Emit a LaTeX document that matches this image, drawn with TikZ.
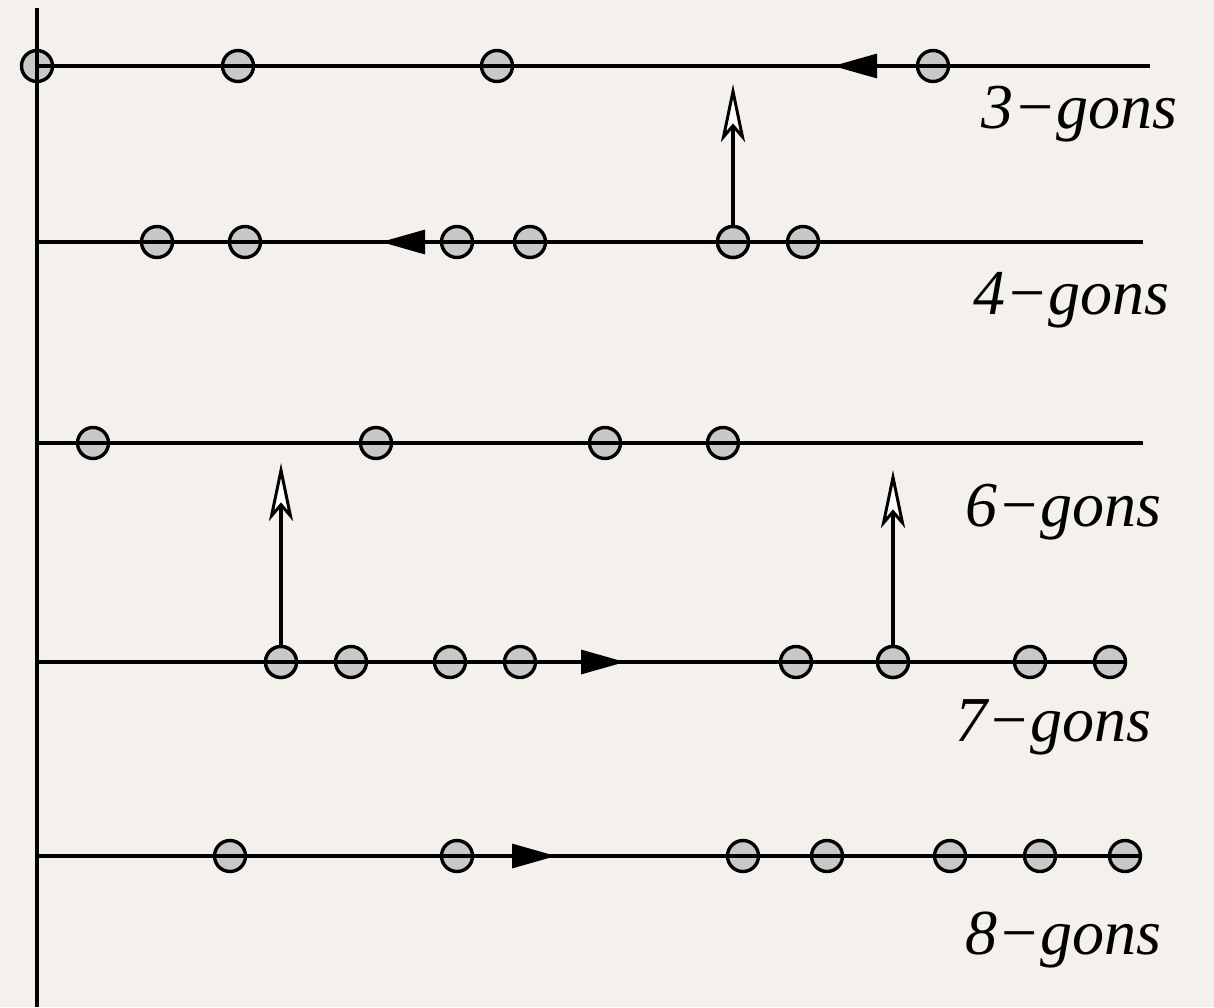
\documentclass[tikz,border=0pt]{standalone}
\usepackage{fontspec}
\newfontfamily\labfont{Liberation Serif}[UprightFont=* Italic]
\usetikzlibrary{arrows.meta}
\definecolor{bg}{HTML}{F4F1EC}
\definecolor{dotfill}{HTML}{C8C8C8}
\tikzset{
  dot/.style={circle,draw=black,fill=dotfill,line width=3.4pt,minimum size=31pt,inner sep=0pt},
  rowline/.style={line width=3.2pt},
  flowtip/.style={line width=3.2pt,-{Triangle[length=44pt,width=24pt]}},
  uparrow/.style={line width=3.2pt,-{Stealth[length=58pt,width=24pt,inset=14pt,fill=white,line width=3pt]}},
  lab/.style={anchor=base east,inner sep=0pt,font=\labfont\fontsize{64}{64}\selectfont}
}
\begin{document}
\begin{tikzpicture}[x=1pt,y=-1pt]
\fill[bg] (0,0) rectangle (1214,1007);
\useasboundingbox (0,0) rectangle (1214,1007);
% coordinates
\coordinate (axtop) at (37,8);
\coordinate (axbot) at (37,1007);
\coordinate (s1) at (37,66);  \coordinate (e1) at (1150,66);
\coordinate (s2) at (37,242); \coordinate (e2) at (1143,242);
\coordinate (s3) at (37,443); \coordinate (e3) at (1143,443);
\coordinate (s4) at (37,662); \coordinate (e4) at (1126,662);
\coordinate (s5) at (37,856); \coordinate (e5) at (1141,856);
% dots
\foreach \x [count=\i] in {37,238,497,933} \node[dot] (a\i) at (\x,66) {};
\foreach \x [count=\i] in {157,245,457,530,733,803} \node[dot] (b\i) at (\x,242) {};
\foreach \x [count=\i] in {93,376,605,723} \node[dot] (c\i) at (\x,443) {};
\foreach \x [count=\i] in {281,351,450,520,796,893,1030,1110} \node[dot] (d\i) at (\x,662) {};
\foreach \x [count=\i] in {230,457,743,827,950,1040,1125} \node[dot] (f\i) at (\x,856) {};
% lines
\draw[rowline] (axtop) -- (axbot);
\draw[rowline] (s1) -- (e1);
\draw[rowline] (s2) -- (e2);
\draw[rowline] (s3) -- (e3);
\draw[rowline] (s4) -- (e4);
\draw[rowline] (s5) -- (e5);
% flow arrows
\coordinate (t1a) at (876,66); \coordinate (t1b) at (833,66);
\coordinate (t2a) at (424,242); \coordinate (t2b) at (381,242);
\coordinate (t4a) at (580,662); \coordinate (t4b) at (625,662);
\coordinate (t5a) at (513,856); \coordinate (t5b) at (556,856);
\draw[flowtip] (t1a) -- (t1b);
\draw[flowtip] (t2a) -- (t2b);
\draw[flowtip] (t4a) -- (t4b);
\draw[flowtip] (t5a) -- (t5b);
% up arrows
\coordinate (u1) at (733,84);
\coordinate (u2) at (281,463);
\coordinate (u3) at (893,470);
\draw[uparrow] (b5.center) -- (u1);
\draw[uparrow] (d1.center) -- (u2);
\draw[uparrow] (d6.center) -- (u3);
\node[dot] at (b5) {};
\node[dot] at (d1) {};
\node[dot] at (d6) {};
\draw[rowline] (b4.center) -- (b6.center);
\draw[rowline] (d1.west) -- (d2.center);
\draw[rowline] (d5.center) -- (d7.center);
% labels
\node[lab] (l3) at (1178,128) {3−gons};
\node[lab] (l4) at (1170,314) {4−gons};
\node[lab] (l6) at (1162,526) {6−gons};
\node[lab] (l7) at (1152,741) {7−gons};
\node[lab] (l8) at (1162,954) {8−gons};
\end{tikzpicture}
\end{document}
